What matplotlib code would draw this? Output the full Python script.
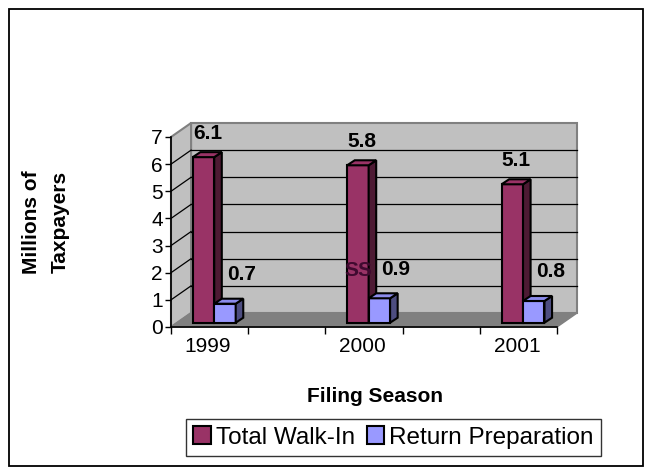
import numpy as np
import matplotlib
matplotlib.use("Agg")
import matplotlib.pyplot as plt
from matplotlib.patches import Polygon, Rectangle

plt.rcParams['font.family'] = ['Liberation Sans', 'DejaVu Sans']

# data
seasons = ['1999', '2000', '2001']
walk_in = [6.1, 5.8, 5.1]
return_prep = [0.7, 0.9, 0.8]
series_names = ['Total Walk-In', 'Return Preparation']

# colours (Excel default palette)
front_cols = ['#993366', '#9999ff']
side_cols = ['#4d1a33', '#4d4d80']
top_cols = ['#993366', '#8c8cec']

# fake 3D geometry, in data units
XMIN, XMAX = -0.24, 2.26
YMAX = 7
DX, DY = 0.13, 0.516          # full depth of the plot box
BDX, BDY = 0.049, 0.184        # depth of a bar
SX, SY = 0.040, 0.158          # bars sit a bit behind the front plane
BW = 0.139

fig = plt.figure(figsize=(6.52, 4.75), dpi=100)
ax = fig.add_axes([171 / 652, 148 / 475, 386 / 652, 190 / 475])
ax.set_xlim(XMIN, XMAX)
ax.set_ylim(0, YMAX)
ax.set_facecolor('none')

# walls and floor
wall_kw = dict(closed=True, clip_on=False, zorder=0)
ax.add_patch(Rectangle((XMIN + DX, DY), XMAX - XMIN, YMAX, facecolor='#c0c0c0',
                       edgecolor='#808080', lw=1.5, clip_on=False, zorder=0))
ax.add_patch(Polygon([(XMIN, 0), (XMIN + DX, DY), (XMIN + DX, YMAX + DY), (XMIN, YMAX)],
                     facecolor='#c0c0c0', edgecolor='#808080', lw=1.5, **wall_kw))
ax.add_patch(Polygon([(XMIN, 0), (XMAX, 0), (XMAX + DX, DY), (XMIN + DX, DY)],
                     facecolor='#808080', edgecolor='#808080', lw=1, **wall_kw))
for k in range(1, YMAX):
    ax.plot([XMIN + DX, XMAX + DX], [k + DY, k + DY], color='black', lw=0.9,
            clip_on=False, zorder=0.5)
    ax.plot([XMIN, XMIN + DX], [k, k + DY], color='black', lw=0.9,
            clip_on=False, zorder=0.5)

# bars
x = np.arange(len(seasons))
for j, vals in enumerate([walk_in, return_prep]):
    left = x - BW + j * BW + SX
    ax.bar(left, vals, width=BW, bottom=SY, align='edge', color=front_cols[j],
           edgecolor='black', lw=1.5, zorder=3, label=series_names[j])
    for xl, v in zip(left, vals):
        xr = xl + BW
        ax.add_patch(Polygon([(xr, SY), (xr + BDX, SY + BDY), (xr + BDX, v + SY + BDY), (xr, v + SY)],
                             facecolor=side_cols[j], edgecolor='black', lw=1.5, zorder=3))
        ax.add_patch(Polygon([(xl, v + SY), (xr, v + SY), (xr + BDX, v + SY + BDY), (xl + BDX, v + SY + BDY)],
                             facecolor=top_cols[j], edgecolor='black', lw=1.5, zorder=3))
        off = (3, 17) if j == 0 else (12, 21)
        ax.annotate(f'{v:.1f}', (xl + BW / 2, v + SY), xytext=off, textcoords='offset points',
                    ha='center', va='center', fontsize=15, fontweight='bold', zorder=5)

# stray label in the original
ax.text(0.975, 2.08, 'SS', color='#400a30', fontsize=15, fontweight='bold',
        ha='center', va='center', zorder=5)

# axes
for s in ['top', 'right']:
    ax.spines[s].set_visible(False)
ax.spines['left'].set_linewidth(1.2)
ax.spines['bottom'].set_linewidth(1.2)
ax.spines['left'].set_zorder(4)
ax.spines['bottom'].set_zorder(4)
ax.set_yticks(range(YMAX + 1))
ax.tick_params(axis='y', labelsize=15, length=4, width=1, pad=2)
ax.set_xticks(XMIN + 0.5 * np.arange(6))
ax.set_xticklabels([])
ax.set_xticks(x, minor=True)
ax.set_xticklabels(seasons, minor=True)
ax.tick_params(axis='x', which='major', length=5, width=1)
ax.tick_params(axis='x', which='minor', length=0, labelsize=15, pad=7)

fig.text(375 / 652, 1 - 397 / 475, 'Filing Season', ha='center', va='center',
         fontsize=15, fontweight='bold')
fig.text(46 / 652, 1 - 222 / 475, 'Millions of\nTaxpayers', ha='center', va='center',
         rotation=90, fontsize=15, fontweight='bold', linespacing=1.7)

leg = fig.legend(loc='center', bbox_to_anchor=(393.5 / 652, 1 - 437.5 / 475), ncol=2,
                 fontsize=17.5, frameon=True, fancybox=False, handlelength=0.72,
                 handleheight=0.72, handletextpad=0.2, columnspacing=0.5,
                 borderpad=0.3, borderaxespad=0)
leg.get_frame().set_edgecolor('black')
leg.get_frame().set_linewidth(1)

fig.add_artist(Rectangle((9 / 652, 9 / 475), 634 / 652, 457 / 475, transform=fig.transFigure,
                         fill=False, edgecolor='black', lw=1.3))

fig.savefig('out.png', dpi=100)
